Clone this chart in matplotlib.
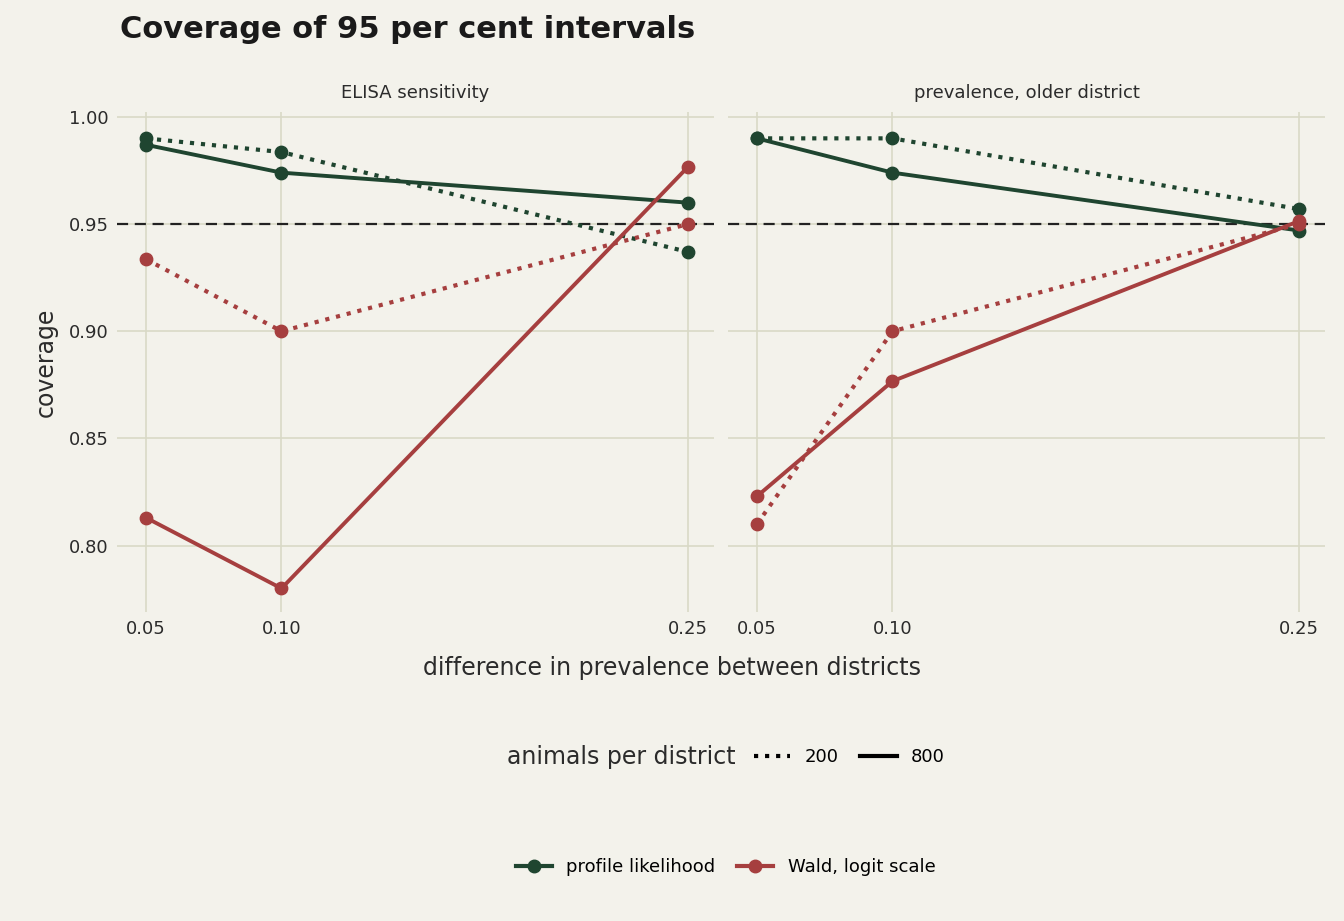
import matplotlib.pyplot as plt
from matplotlib.lines import Line2D

# ── Data ─────────────────────────────────────────────────────────────────────
diffs = [0.05, 0.10, 0.25]
panels = ["ELISA sensitivity", "prevalence, older district"]

profile_200 = {"ELISA sensitivity": [0.990, 0.9836, 0.937],
               "prevalence, older district": [0.990, 0.990, 0.957]}
profile_800 = {"ELISA sensitivity": [0.987, 0.974, 0.960],
               "prevalence, older district": [0.990, 0.974, 0.947]}
wald_200 = {"ELISA sensitivity": [0.9336, 0.900, 0.950],
            "prevalence, older district": [0.810, 0.900, 0.950]}
wald_800 = {"ELISA sensitivity": [0.813, 0.780, 0.9767],
            "prevalence, older district": [0.823, 0.8767, 0.9514]}

BG = "#f3f2eb"
GRID = "#d9d9c6"
GREEN = "#1f4530"
RED = "#a63f3f"
TXT = "#2b2b2b"

fig = plt.figure(figsize=(13.44, 9.21), dpi=100, facecolor=BG)
W, H = 1344, 921
axes = []
for i, name in enumerate(panels):
    x0 = 117 if i == 0 else 728
    ax = fig.add_axes([x0 / W, 1 - 612 / H, 597 / W, 500 / H], facecolor=BG)
    axes.append(ax)
    for s in ax.spines.values():
        s.set_visible(False)
    ax.set_xlim(0.0393, 0.2596)
    ax.set_ylim(0.769, 1.0023)
    ax.set_xticks(diffs, ["0.05", "0.10", "0.25"])
    ax.set_yticks([0.80, 0.85, 0.90, 0.95, 1.00])
    ax.grid(color=GRID, linewidth=1.2)
    ax.set_axisbelow(True)
    ax.tick_params(length=0, labelsize=13, colors=TXT, pad=6)
    if i == 1:
        ax.tick_params(labelleft=False)
    else:
        ax.set_yticklabels(["0.80", "0.85", "0.90", "0.95", "1.00"])
    ax.axhline(0.95, color="#222222", linestyle=(0, (5, 3)), linewidth=1.6, zorder=2)
    ax.set_title(name, fontsize=13, color=TXT, pad=10)

    for vals, color, ls in [(profile_200[name], GREEN, ":"), (profile_800[name], GREEN, "-"),
                            (wald_200[name], RED, ":"), (wald_800[name], RED, "-")]:
        ax.plot(diffs, vals, color=color, linestyle=ls, linewidth=3 if ls == ":" else 2.8,
                zorder=3)
        ax.scatter(diffs, vals, color=color, s=80, zorder=4, clip_on=False)

axes[0].set_ylabel("coverage", fontsize=17, color=TXT, labelpad=8)
fig.text(0.5, 1 - 668 / H, "difference in prevalence between districts", ha="center",
         va="center", fontsize=17, color=TXT)
fig.text(120 / W, 1 - 30 / H, "Coverage of 95 per cent intervals", fontsize=22,
         fontweight="bold", color="#1a1a1a", va="center")

# legends
fig.text(736 / W, 1 - 757 / H, "animals per district", ha="right", va="center",
         fontsize=17, color=TXT)
lt = [Line2D([], [], color="black", linestyle=":", linewidth=3),
      Line2D([], [], color="black", linestyle="-", linewidth=3)]
fig.legend(lt, ["200", "800"], loc="center left", bbox_to_anchor=(738 / W, 1 - 757 / H),
           ncol=2, frameon=False, fontsize=13, handlelength=2.0, columnspacing=1.2)

lc = [Line2D([], [], color=GREEN, marker="o", markersize=9, linewidth=3),
      Line2D([], [], color=RED, marker="o", markersize=9, linewidth=3)]
fig.legend(lc, ["profile likelihood", "Wald, logit scale"], loc="center",
           bbox_to_anchor=(0.54, 1 - 867 / H), ncol=2, frameon=False, fontsize=13,
           handlelength=2, columnspacing=1.2)

fig.savefig("out.png", dpi=100, facecolor=BG)
